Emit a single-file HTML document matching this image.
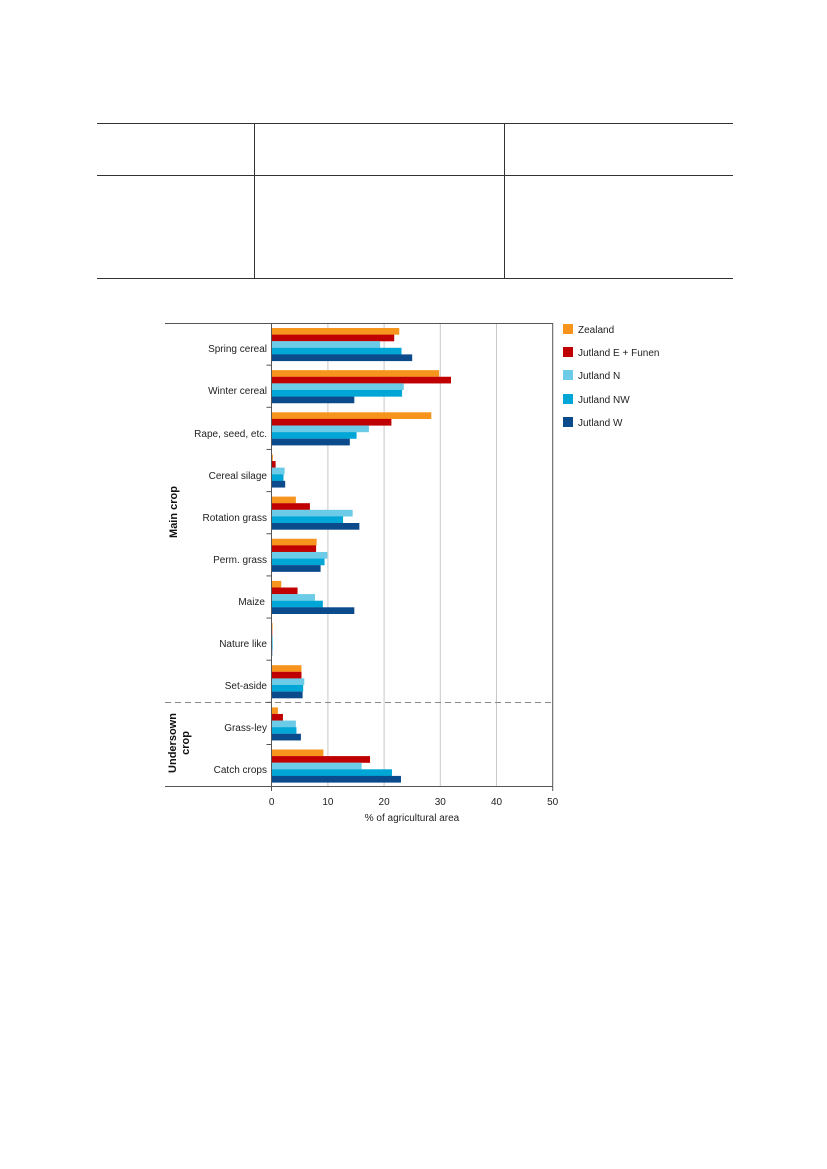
<!DOCTYPE html>
<html><head><meta charset="utf-8"><style>
body{margin:0;background:#fff;}
svg{display:block;font-family:"Liberation Sans",Arial,sans-serif;}
</style></head><body>
<svg id="s" width="827" height="1169" xmlns="http://www.w3.org/2000/svg">
<g stroke="#333" stroke-width="1">
<line x1="97" y1="123.5" x2="733" y2="123.5"/>
<line x1="97" y1="175.5" x2="733" y2="175.5"/>
<line x1="97" y1="278.5" x2="733" y2="278.5"/>
<line x1="254.5" y1="123" x2="254.5" y2="278"/>
<line x1="504.5" y1="123" x2="504.5" y2="278"/>
</g>
<g stroke="#c8c8c8" stroke-width="1">
<line x1="327.9" y1="323" x2="327.9" y2="786.5"/>
<line x1="384.1" y1="323" x2="384.1" y2="786.5"/>
<line x1="440.3" y1="323" x2="440.3" y2="786.5"/>
<line x1="496.5" y1="323" x2="496.5" y2="786.5"/>
</g>
<g id="bars"></g>
<g stroke="#555" stroke-width="1" fill="none">
<line x1="165" y1="323.5" x2="553" y2="323.5"/>
<line x1="165" y1="786.5" x2="553" y2="786.5"/>
<line x1="552.7" y1="323" x2="552.7" y2="791"/>
<line x1="271.5" y1="323" x2="271.5" y2="791"/>
<line x1="165" y1="702.5" x2="553" y2="702.5" stroke="#888" stroke-dasharray="6,4"/>
</g>
<g id="ticks" stroke="#555"></g>
<g font-size="10" fill="#222" text-anchor="end">
<text x="267" y="352">Spring cereal</text>
<text x="267" y="394">Winter cereal</text>
<text x="267" y="437">Rape, seed, etc.</text>
<text x="267" y="479">Cereal silage</text>
<text x="267" y="521">Rotation grass</text>
<text x="267" y="563">Perm. grass</text>
<text x="265" y="605">Maize</text>
<text x="267" y="647">Nature like</text>
<text x="267" y="689">Set-aside</text>
<text x="267" y="731">Grass-ley</text>
<text x="267" y="773">Catch crops</text>
</g>
<g font-size="10" fill="#222" text-anchor="middle">
<text x="271.7" y="805">0</text>
<text x="327.9" y="805">10</text>
<text x="384.1" y="805">20</text>
<text x="440.3" y="805">30</text>
<text x="496.5" y="805">40</text>
<text x="552.7" y="805">50</text>
<text x="412" y="821">% of agricultural area</text>
</g>
<g font-size="11" font-weight="bold" fill="#111" text-anchor="middle">
<text transform="translate(177,512) rotate(-90)">Main crop</text>
<text transform="translate(176,743) rotate(-90)">Undersown</text>
<text transform="translate(189,743) rotate(-90)">crop</text>
</g>
<g font-size="10" fill="#222">
<rect x="563" y="324" width="10" height="10" fill="#F7941D"/><text x="578" y="333">Zealand</text>
<rect x="563" y="347" width="10" height="10" fill="#C00000"/><text x="578" y="356">Jutland E + Funen</text>
<rect x="563" y="370" width="10" height="10" fill="#6CCBE6"/><text x="578" y="379">Jutland N</text>
<rect x="563" y="394" width="10" height="10" fill="#00A6D6"/><text x="578" y="403">Jutland NW</text>
<rect x="563" y="417" width="10" height="10" fill="#0B4A8B"/><text x="578" y="426">Jutland W</text>
</g>
<script>
(function(){
var d=[[22.7,21.8,19.3,23.1,25.0],[29.8,31.9,23.5,23.2,14.7],[28.4,21.3,17.3,15.1,13.9],[0.2,0.7,2.3,2.1,2.4],[4.3,6.8,14.4,12.7,15.6],[8.0,7.9,9.9,9.4,8.7],[1.7,4.6,7.7,9.1,14.7],[0.15,0.1,0.2,0.15,0.1],[5.3,5.3,5.8,5.6,5.5],[1.1,2.0,4.3,4.4,5.2],[9.2,17.5,16.0,21.4,23.0]];
var c=["#F7941D","#C00000","#6CCBE6","#00A6D6","#0B4A8B"];
var g=document.getElementById("bars"),t=document.getElementById("ticks"),ns="http://www.w3.org/2000/svg";
for(var i=0;i<11;i++){var gy=323+42.15*i;
 for(var j=0;j<5;j++){var r=document.createElementNS(ns,"rect");
 r.setAttribute("x",271.7);r.setAttribute("y",gy+5+6.6*j);r.setAttribute("width",Math.max(0.5,d[i][j]*5.62));r.setAttribute("height",6.7);r.setAttribute("fill",c[j]);g.appendChild(r);}
 if(i>0){var l=document.createElementNS(ns,"line");l.setAttribute("x1",266.5);l.setAttribute("x2",271.5);l.setAttribute("y1",gy);l.setAttribute("y2",gy);t.appendChild(l);}
}
})();
</script>
</svg>
</body></html>
